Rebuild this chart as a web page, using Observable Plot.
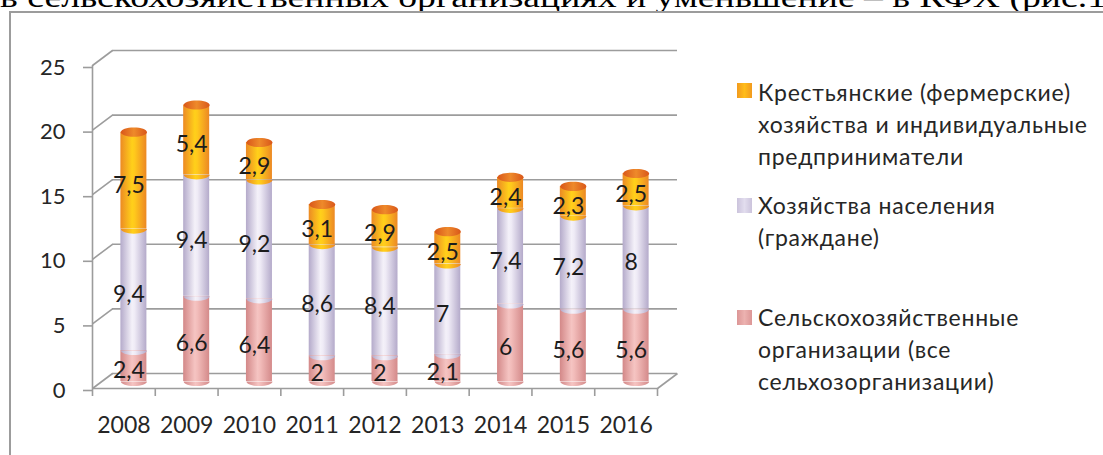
<!DOCTYPE html>
<html>
<head>
<meta charset="utf-8">
<script src="https://cdn.jsdelivr.net/npm/d3@7"></script>
<script src="https://cdn.jsdelivr.net/npm/@observablehq/plot@0.6"></script>
<style>
  html, body { margin: 0; padding: 0; background: #fff; }
  #wrap { position: relative; width: 1103px; height: 455px; overflow: hidden; background: #fff; }
  #frame { position: absolute; left: 9px; top: 11px; width: 1300px; height: 700px;
           border-left: 2px solid #9c9c9c; border-top: 2px solid #9c9c9c; }
  #chart { position: absolute; left: 0; top: 0; }
  #toptext { position: absolute; left: 0; top: 0; }
  .lg { position: absolute; left: 758px; font-family: Lato, sans-serif; font-size: 23px;
        letter-spacing: 0.75px; color: #262626; line-height: 32px; white-space: pre; }
  .sw { position: absolute; left: 737px; width: 15px; height: 15px; }
</style>
</head>
<body>
<div id="wrap">
  <svg id="toptext" width="1103" height="20">
    <text x="0" y="6.5" font-family="Liberation Serif" font-size="30" fill="#000"
          textLength="1106" lengthAdjust="spacingAndGlyphs">в сельскохозяйственных организациях и уменьшение – в КФХ (рис.1</text>
  </svg>
  <div id="frame"></div>
  <div id="chart"></div>
</div>
<script>
// ---- data ----
const years = ["2008", "2009", "2010", "2011", "2012", "2013", "2014", "2015", "2016"];
const agriOrgs   = [2.4, 6.6, 6.4, 2, 2, 2.1, 6, 5.6, 5.6];   // Сельскохозяйственные организации
const households = [9.4, 9.4, 9.2, 8.6, 8.4, 7, 7.4, 7.2, 8]; // Хозяйства населения
const farms      = [7.5, 5.4, 2.9, 3.1, 2.9, 2.5, 2.4, 2.3, 2.5]; // КФХ и ИП
const seriesNames = [
  "Сельскохозяйственные\nорганизации (все\nсельхозорганизации)",
  "Хозяйства населения\n(граждане)",
  "Крестьянские (фермерские)\nхозяйства и индивидуальные\nпредприниматели"
];
const yTicks = [0, 5, 10, 15, 20, 25];

// ---- layout / style ----
const W = 1103, H = 455;
const mLeft = 92, mRight = W - 657, mTop = 65, mBottom = H - 388;
const pxX = (W - mLeft - mRight) / years.length;
const pxY = (H - mTop - mBottom) / 25;
const DX = 20 / pxX, DY = 15 / pxY;      // 3D depth in data units
const HW = 13 / pxX;                     // cylinder half width
const gridColor = "#9c9c9c";
const placeholders = ["#e9a5a1", "#d8d1e5", "#f5a51f"];
const gradIds = ["gPink", "gLav", "gOrange"];
const capPlaceholder = "#e5691c";

// stacked table
const seriesVals = [agriOrgs, households, farms];
const segs = [];
const tops = [];
years.forEach((yr, i) => {
  let acc = 0;
  seriesVals.forEach((vals, k) => {
    segs.push({ i, year: yr, k, y1: acc, y2: acc + vals[i], v: vals[i] });
    acc += vals[i];
  });
  tops.push({ i, total: acc });
});

const K = 0.5523, RX = 13, RY = 4.6;
const halfEllipse = {
  draw(ctx) {
    ctx.moveTo(-RX, 0);
    ctx.bezierCurveTo(-RX, K * RY, -K * RX, RY, 0, RY);
    ctx.bezierCurveTo(K * RX, RY, RX, K * RY, RX, 0);
    ctx.closePath();
  }
};
const fullEllipse = {
  draw(ctx) {
    ctx.moveTo(-RX, 0);
    ctx.bezierCurveTo(-RX, K * RY, -K * RX, RY, 0, RY);
    ctx.bezierCurveTo(K * RX, RY, RX, K * RY, RX, 0);
    ctx.bezierCurveTo(RX, -K * RY, K * RX, -RY, 0, -RY);
    ctx.bezierCurveTo(-K * RX, -RY, -RX, -K * RY, -RX, 0);
    ctx.closePath();
  }
};

const fmt = v => String(v).replace(".", ",");
const cx = d => d.i + 0.5;

const cylMarks = [];
[0, 1, 2].forEach(k => {
  const data = segs.filter(d => d.k === k);
  cylMarks.push(Plot.rect(data, {
    x1: d => cx(d) - HW, x2: d => cx(d) + HW, y1: "y1", y2: "y2",
    fill: placeholders[k], dx: 10, dy: -7
  }));
  cylMarks.push(Plot.dot(data, {
    x: cx, y: "y1", symbol: halfEllipse, r: 10,
    fill: placeholders[k], stroke: "none", dx: 10, dy: -7
  }));
});
cylMarks.push(Plot.dot(tops, {
  x: cx, y: "total", symbol: fullEllipse, r: 10,
  fill: capPlaceholder, stroke: "none", dx: 10, dy: -7
}));

const chart = Plot.plot({
  width: W, height: H,
  marginLeft: mLeft, marginRight: mRight, marginTop: mTop, marginBottom: mBottom,
  x: { type: "linear", domain: [0, years.length] },
  y: { domain: [0, 25] },
  style: { fontFamily: "Lato, sans-serif", fontSize: "22px", color: "#262626", background: "transparent", overflow: "visible" },
  marks: [
    // back wall gridlines
    Plot.ruleY(yTicks, { y: d => d + DY, x1: DX, x2: years.length + DX, stroke: gridColor, strokeWidth: 1.6 }),
    // left wall diagonals
    Plot.link(yTicks, { x1: 0, y1: d => d, x2: DX, y2: d => d + DY, stroke: gridColor, strokeWidth: 1.6 }),
    // floor right edge
    Plot.link([0], { x1: years.length, y1: 0, x2: years.length + DX, y2: DY, stroke: gridColor, strokeWidth: 1.6 }),
    // front axis lines
    Plot.ruleX([0], { y1: 0, y2: 25, stroke: gridColor, strokeWidth: 1.6 }),
    Plot.ruleY([0], { x1: 0, x2: years.length, stroke: gridColor, strokeWidth: 1.6 }),
    Plot.axisY({ ticks: yTicks, tickSize: 9, tickPadding: 18, fontSize: 22, stroke: gridColor, strokeWidth: 1.6, dy: 2, label: null }),
    Plot.axisX({ ticks: d3.range(years.length + 1), tickSize: 8, tickFormat: () => "", stroke: gridColor, strokeWidth: 1.6, label: null }),
    Plot.axisX({ ticks: years.map((_, i) => i + 0.5), tickSize: 0, tickPadding: 28, fontSize: 23,
                 tickFormat: v => years[Math.floor(v)], label: null }),
    ...cylMarks,
    Plot.text(segs, { x: cx, y: d => (d.y1 + d.y2) / 2, text: d => fmt(d.v), dx: 5, dy: -2, fontSize: 23, fill: "#1c1c1c" })
  ]
});

// gradients for the cylinders
const defs = document.createElementNS("http://www.w3.org/2000/svg", "defs");
defs.innerHTML = `
  <linearGradient id="gPink" x1="0" x2="1" y1="0" y2="0">
    <stop offset="0" stop-color="#d38888"/><stop offset="0.45" stop-color="#f5c4c2"/>
    <stop offset="0.55" stop-color="#f2bcba"/><stop offset="1" stop-color="#d48a8a"/>
  </linearGradient>
  <linearGradient id="gLav" x1="0" x2="1" y1="0" y2="0">
    <stop offset="0" stop-color="#b4aaca"/><stop offset="0.45" stop-color="#f4f1f9"/>
    <stop offset="0.55" stop-color="#efebf6"/><stop offset="1" stop-color="#b4aaca"/>
  </linearGradient>
  <linearGradient id="gOrange" x1="0" x2="1" y1="0" y2="0">
    <stop offset="0" stop-color="#ec8a24"/><stop offset="0.45" stop-color="#ffd01a"/>
    <stop offset="0.55" stop-color="#ffc81c"/><stop offset="1" stop-color="#ec8824"/>
  </linearGradient>
  <linearGradient id="gCap" x1="0" x2="1" y1="0" y2="0">
    <stop offset="0" stop-color="#d9571a"/><stop offset="0.5" stop-color="#ee8a2a"/>
    <stop offset="1" stop-color="#d9571a"/>
  </linearGradient>`;
chart.insertBefore(defs, chart.firstChild);
placeholders.forEach((p, k) => {
  chart.querySelectorAll(`[fill="${p}"]`).forEach(el => el.setAttribute("fill", `url(#${gradIds[k]})`));
});
chart.querySelectorAll(`[fill="${capPlaceholder}"]`).forEach(el => el.setAttribute("fill", "url(#gCap)"));
document.getElementById("chart").appendChild(chart);

// legend (top entry = top series)
const wrap = document.getElementById("wrap");
const legendTops = [301, 189, 76];
const swatchTops = [310, 198, 83];
const swatchFills = [
  "linear-gradient(90deg,#dc9696,#ecb2b0,#dc9696)",
  "linear-gradient(90deg,#cbc3dc,#e2ddee,#cbc3dc)",
  "linear-gradient(90deg,#f29a1e,#ffbd1a,#f29a1e)"
];
seriesNames.forEach((name, k) => {
  const sw = document.createElement("div");
  sw.className = "sw";
  sw.style.top = swatchTops[k] + "px";
  sw.style.background = swatchFills[k];
  wrap.appendChild(sw);
  const t = document.createElement("div");
  t.className = "lg";
  t.style.top = legendTops[k] + "px";
  t.textContent = name;
  wrap.appendChild(t);
});
</script>
</body>
</html>
